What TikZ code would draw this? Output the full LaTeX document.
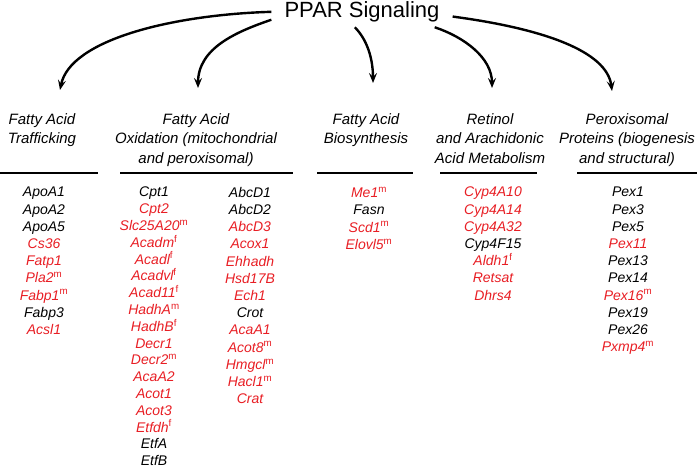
\documentclass[tikz,border=0pt]{standalone}
\usepackage{fontspec}
\setmainfont{Liberation Sans}
\usepackage{tikz}
\usetikzlibrary{arrows.meta,positioning}
\definecolor{genered}{RGB}{232,30,36}
\newcommand{\gred}[1]{\textcolor{genered}{#1}}
\newcommand{\supm}{\textsuperscript{\upshape m}}
\newcommand{\supf}{\textsuperscript{\upshape f}}

\begin{document}
\begin{tikzpicture}[x=1pt, y=-1pt,
    title/.style={font=\fontsize{22}{26}\selectfont, inner xsep=13pt, inner ysep=5pt},
    hdr/.style={font=\fontsize{15}{19.7}\selectfont\itshape, align=center, anchor=north, inner sep=0pt},
    genes/.style={font=\fontsize{14}{17.2}\selectfont\itshape, align=center, anchor=north, inner sep=0pt},
    sig/.style={line width=2.4pt, -{Stealth[length=10pt,width=8pt,inset=4pt]}},
    rule/.style={line width=1.6pt}]
  \useasboundingbox (0,0) rectangle (700,470);

  \node[title, anchor=base] (ppar) at (362,17.5) {PPAR Signaling};

  % headers
  \node[hdr] (hdTraf) at (42,113) {Fatty Acid\\Trafficking};
  \node[hdr] (hdOx) at (196,113) {Fatty Acid\\Oxidation (mitochondrial\\and peroxisomal)};
  \node[hdr] (hdBio) at (366,113) {Fatty Acid\\Biosynthesis};
  \node[hdr] (hdRet) at (490,113) {Retinol\\and Arachidonic\\Acid Metabolism};
  \node[hdr] (hdPex) at (627,113) {Peroxisomal\\Proteins (biogenesis\\and structural)};

  \draw[rule] (0,173) -- (98,173);
  \draw[rule] (120,173) -- (293,173);
  \draw[rule] (317,173) -- (413,173);
  \draw[rule] (440,173) -- (537,173);
  \draw[rule] (577,173) -- (697,173);

  % gene lists
  \node[genes] (lsTraf) at (44,187) {ApoA1\\ApoA2\\ApoA5\\\gred{Cs36}\\\gred{Fatp1}\\\gred{Pla2\supm}\\\gred{Fabp1\supm}\\Fabp3\\\gred{Acsl1}};
  \node[genes, font=\fontsize{14}{16.8}\selectfont\itshape] (lsOxA) at (154,187) {Cpt1\\\gred{Cpt2}\\\gred{Slc25A20\supm}\\\gred{Acadm\supf}\\\gred{Acadl\supf}\\\gred{Acadvl\supf}\\\gred{Acad11\supf}\\\gred{HadhA\supm}\\\gred{HadhB\supf}\\\gred{Decr1}\\\gred{Decr2\supm}\\\gred{AcaA2}\\\gred{Acot1}\\\gred{Acot3}\\\gred{Etfdh\supf}\\EtfA\\EtfB};
  \node[genes] (lsOxB) at (250,187) {AbcD1\\AbcD2\\\gred{AbcD3}\\\gred{Acox1}\\\gred{Ehhadh}\\\gred{Hsd17B}\\\gred{Ech1}\\Crot\\\gred{AcaA1}\\\gred{Acot8\supm}\\\gred{Hmgcl\supm}\\\gred{Hacl1\supm}\\\gred{Crat}};
  \node[genes] (lsBio) at (369,187) {\gred{Me1\supm}\\Fasn\\\gred{Scd1\supm}\\\gred{Elovl5\supm}};
  \node[genes] (lsRet) at (493,187) {\gred{Cyp4A10}\\\gred{Cyp4A14}\\\gred{Cyp4A32}\\Cyp4F15\\\gred{Aldh1\supf}\\\gred{Retsat}\\\gred{Dhrs4}};
  \node[genes] (lsPex) at (628,187) {Pex1\\Pex3\\Pex5\\\gred{Pex11}\\Pex13\\Pex14\\\gred{Pex16\supm}\\Pex19\\Pex26\\\gred{Pxmp4\supm}};

  % arrow tips
  \coordinate (tTraf) at (60,90);
  \coordinate (tOx) at (198,88);
  \coordinate (tBio) at (373,83);
  \coordinate (tRet) at (492,88);
  \coordinate (tPex) at (612,91);

  \draw[sig] (ppar.west) .. controls +(-100,3) and +(10,-50) .. (tTraf);
  \draw[sig] (ppar.185) .. controls +(-35,12) and +(0,-40) .. (tOx);
  \draw[sig] (ppar.245) .. controls +(12,12) and +(0,-25) .. (tBio);
  \draw[sig] (ppar.348) .. controls +(30,10) and +(0,-30) .. (tRet);
  \draw[sig] (ppar.357) .. controls +(90,12) and +(-5,-40) .. (tPex);
\end{tikzpicture}
\end{document}
